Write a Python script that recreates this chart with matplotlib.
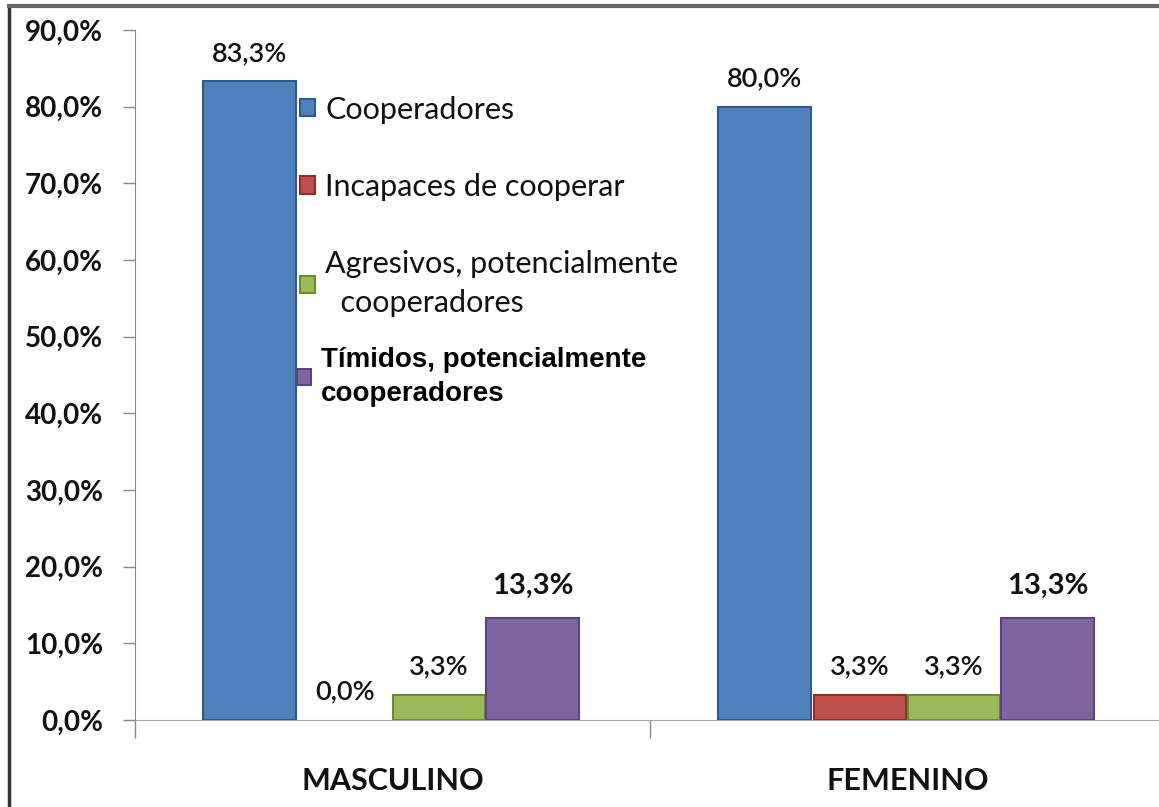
import matplotlib
matplotlib.use("Agg")
import matplotlib.pyplot as plt
from matplotlib.lines import Line2D
import numpy as np

categories = ["MASCULINO", "FEMENINO"]
series_names = ["Cooperadores", "Incapaces de cooperar",
                "Agresivos, potencialmente\n  cooperadores",
                "Tímidos, potencialmente\ncooperadores"]
cooperadores = [83.3, 80.0]
incapaces = [0.0, 3.3]
agresivos = [3.3, 3.3]
timidos = [13.3, 13.3]
yticks = [0, 10, 20, 30, 40, 50, 60, 70, 80, 90]

colors = ["#4F81BD", "#C0504D", "#9BBB59", "#8064A2"]
edges = ["#2F5A8C", "#8C2F2C", "#6E8A35", "#5A4478"]

W, H = 1159, 807
fig = plt.figure(figsize=(W / 100, H / 100), dpi=100)
fig.patch.set_facecolor("white")

ax = fig.add_axes([135 / W, (H - 720) / H, 1030 / W, 690 / H])
ax.set_xlim(-0.5, 1.5)
ax.set_ylim(0, 90)

x = np.arange(len(categories))
offsets = [-0.277, -0.092, 0.09, 0.272]
width = 0.18
all_series = [cooperadores, incapaces, agresivos, timidos]
handles = []
for i, vals in enumerate(all_series):
    lws = [0 if v == 0 else 1.5 for v in vals]
    b = ax.bar(x + offsets[i], vals, width=width, color=colors[i],
               edgecolor=edges[i], linewidth=lws, label=series_names[i], zorder=3)
    handles.append(b)
    for xi, v in zip(x + offsets[i], vals):
        big = (i == 3)
        ax.annotate(f"{v:.1f}%".replace(".", ","), (xi, v),
                    xytext=(0, 11 if not big else 14), textcoords="offset points",
                    ha="center", va="bottom",
                    fontsize=19.5 if not big else 21,
                    fontweight="semibold" if not big else "bold",
                    family="Lato", color="#111111", zorder=5)

ax.set_yticks(yticks)
ax.set_yticklabels([f"{t:.1f}%".replace(".", ",") for t in yticks],
                   fontsize=20, fontweight="bold", family="Lato", color="#111111")
ax.tick_params(axis="y", length=9, color="#888888", pad=14, width=1)

ax.set_xticks([-0.5, 0.5])
ax.set_xticklabels([])
ax.tick_params(axis="x", length=13, color="#888888", width=1)
for xi, c in zip(x, categories):
    ax.text(xi, -0.088, c, transform=ax.get_xaxis_transform(), ha="center",
            va="center", fontsize=22, fontweight="bold", family="Lato", color="#111111")

for s in ["top", "right"]:
    ax.spines[s].set_visible(False)
ax.spines["left"].set_color("#888888")
ax.spines["bottom"].set_color("#AAAAAA")
ax.spines["left"].set_bounds(0, 90)

# legend part 1 (first three series)
leg1 = ax.legend(handles=handles[:3], labels=series_names[:3], loc="upper left",
                 bbox_to_anchor=(272 / W, (H - 68) / H), bbox_transform=fig.transFigure,
                 frameon=False, labelspacing=1.62,
                 handlelength=0.5, handleheight=0.5, handletextpad=0.35,
                 prop={"family": "Lato", "size": 22})
for t in leg1.get_texts():
    t.set_color("#111111")
for hnd in leg1.legend_handles:
    hnd.set_linewidth(1.5)
leg1.get_texts()[2].set_linespacing(1.45)
ax.add_artist(leg1)

# legend part 2 (last series, different font as in the original)
leg2 = ax.legend(handles=handles[3:], labels=series_names[3:], loc="upper left",
                 bbox_to_anchor=(272 / W, (H - 322) / H), bbox_transform=fig.transFigure,
                 frameon=False,
                 handlelength=0.5, handleheight=0.5, handletextpad=0.35,
                 prop={"family": "Liberation Sans", "size": 20, "weight": "bold"})
leg2.get_texts()[0].set_linespacing(1.4)

# outer frame (left and top borders)
fig.add_artist(Line2D([9 / W, 9 / W], [0, 1 - 6 / H], transform=fig.transFigure,
                      color="#333333", linewidth=2.5))
fig.add_artist(Line2D([9 / W, 1], [1 - 6 / H, 1 - 6 / H], transform=fig.transFigure,
                      color="#666666", linewidth=3))

fig.savefig("out.png", dpi=100)
